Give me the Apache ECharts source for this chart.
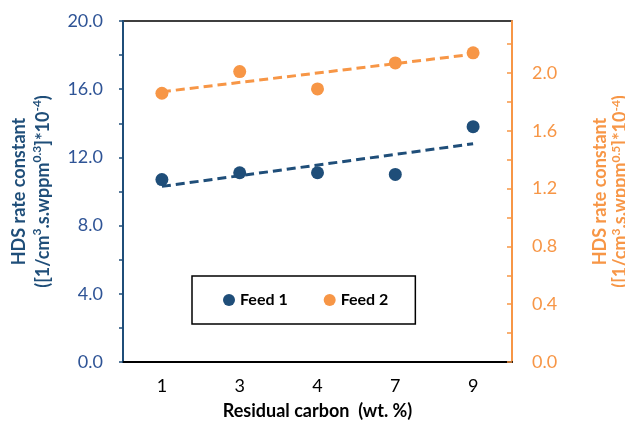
<!DOCTYPE html>
<html>
<head>
<meta charset="utf-8">
<script src="https://cdn.jsdelivr.net/npm/echarts@6/dist/echarts.min.js"></script>
<style>
  html, body { margin: 0; padding: 0; background: #fff; }
  #main { width: 625px; height: 421px; }
</style>
</head>
<body>
<div id="main"></div>
<script>
// residual carbon (wt. %)
const categories = ['1', '3', '4', '7', '9']
// HDS rate constants
const feed1 = [10.7, 11.1, 11.1, 11.0, 13.8]
const feed2 = [1.86, 2.01, 1.89, 2.07, 2.14]
// linear trendline ends (first and last category)
const trend1 = [10.3, null, null, null, 12.8]
const trend2 = [1.87, null, null, null, 2.13]

const blue = '#1F4E79'
const blueText = '#2F5496'
const orange = '#F79646'
const font = 'Lato, "Open Sans", sans-serif'

const chart = echarts.init(document.getElementById('main'))

const titleRich = (color, lh) => ({
  t: { fontSize: 18, fontWeight: 'bold', color: color, fontFamily: font, lineHeight: lh },
  s: { fontSize: 12, fontWeight: 'bold', color: color, fontFamily: font, lineHeight: lh, verticalAlign: 'top' }
})

const option = {
  animation: false,
  grid: {
    left: 123, right: 113, top: 21, bottom: 59,
    outerBoundsMode: 'none',
    show: true, borderColor: '#000', borderWidth: 1.5, backgroundColor: 'transparent'
  },
  legend: {
    data: ['Feed 1', 'Feed 2'],
    left: 192, top: 276,
    padding: [16, 27, 16, 31],
    itemGap: 36,
    borderColor: '#000', borderWidth: 1.5,
    icon: 'circle', itemWidth: 12, itemHeight: 12,
    textStyle: { fontSize: 16, fontWeight: 'bold', color: '#000', fontFamily: font }
  },
  xAxis: [
    {
      type: 'category',
      data: categories,
      boundaryGap: true,
      axisLine: { lineStyle: { color: '#000', width: 2 } },
      axisTick: { inside: true, length: 5, interval: 0, lineStyle: { color: '#000', width: 1.5 } },
      axisLabel: { fontSize: 18, color: '#000', margin: 15, fontFamily: font },
      name: 'Residual carbon  (wt. %)',
      nameLocation: 'middle',
      nameGap: 40,
      nameTextStyle: { fontSize: 18, fontWeight: 'bold', color: '#000', fontFamily: font }
    },
    {
      type: 'category',
      data: categories,
      position: 'bottom',
      axisLine: { show: false },
      axisTick: { inside: true, length: 5, alignWithLabel: true, interval: 0, lineStyle: { color: '#000', width: 1.5 } },
      axisLabel: { show: false }
    }
  ],
  yAxis: [
    {
      type: 'value',
      min: 0, max: 20, interval: 2,
      splitLine: { show: false },
      axisLine: { show: true, lineStyle: { color: blue, width: 2 } },
      axisTick: { show: true, length: 4, lineStyle: { color: blue, width: 1.5 } },
      axisLabel: {
        fontSize: 18, color: blueText, margin: 20, fontFamily: font,
        formatter: v => (Math.round(v) % 4 === 0 ? v.toFixed(1) : '')
      },
      name: '{t|HDS rate constant}\n{t|([1/cm}{s|3}{t|.s.wppm}{s|0.3}{t|]*10}{s|-4}{t|)}',
      nameLocation: 'middle',
      nameRotate: 90,
      nameGap: 68,
      nameTextStyle: { rich: titleRich(blue, 24) }
    },
    {
      type: 'value',
      min: 0, max: 2.36, interval: 0.2,
      splitLine: { show: false },
      axisLine: { show: true, lineStyle: { color: orange, width: 2 } },
      axisTick: { show: true, inside: true, length: 5, lineStyle: { color: orange, width: 1.5 } },
      axisLabel: {
        fontSize: 18, color: orange, margin: 20, fontFamily: font, showMaxLabel: false,
        formatter: v => (Math.round(v * 10) % 4 === 0 ? v.toFixed(1) : '')
      },
      name: '{t|HDS rate constant}\n{t|([1/cm}{s|3}{t|.s.wppm}{s|0.5}{t|]*10}{s|-4}{t|)}',
      nameLocation: 'middle',
      nameRotate: 90,
      nameGap: 78,
      nameTextStyle: { rich: titleRich(orange, 20) }
    }
  ],
  series: [
    {
      name: 'trend 1',
      type: 'line',
      yAxisIndex: 0,
      data: trend1,
      connectNulls: true,
      showSymbol: false,
      symbol: 'none',
      lineStyle: { color: blue, width: 3, type: [9, 5] },
      z: 1
    },
    {
      name: 'trend 2',
      type: 'line',
      yAxisIndex: 1,
      data: trend2,
      connectNulls: true,
      showSymbol: false,
      symbol: 'none',
      lineStyle: { color: orange, width: 3, type: [9, 5] },
      z: 1
    },
    {
      name: 'Feed 1',
      type: 'scatter',
      yAxisIndex: 0,
      data: feed1,
      symbolSize: 13,
      itemStyle: { color: blue, opacity: 1 },
      z: 3
    },
    {
      name: 'Feed 2',
      type: 'scatter',
      yAxisIndex: 1,
      data: feed2,
      symbolSize: 13,
      itemStyle: { color: orange, opacity: 1 },
      z: 3
    }
  ]
}

chart.setOption(option)
</script>
</body>
</html>
